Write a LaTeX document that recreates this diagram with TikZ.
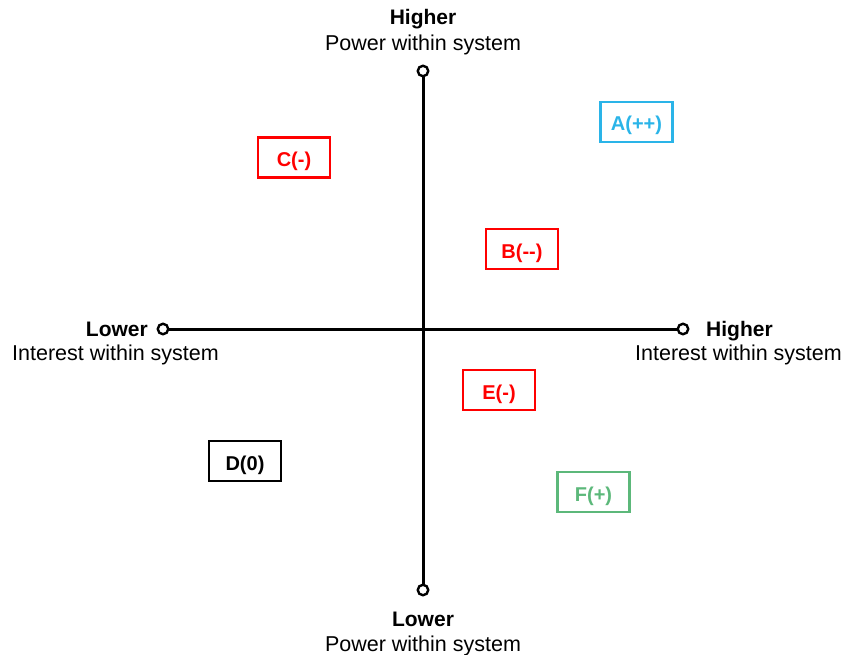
\documentclass[tikz,border=0pt]{standalone}
\usepackage{fontspec}
\setmainfont{Liberation Sans}
\definecolor{negred}{HTML}{FF0000}
\definecolor{poscyan}{HTML}{2AB4E8}
\definecolor{posgreen}{HTML}{5CB87A}
\begin{document}
\begin{tikzpicture}[x=1pt,y=-1pt,
  axis/.style={line width=3pt,black},
  endpt/.style={circle,draw=black,fill=white,line width=2.4pt,minimum size=10.5pt,inner sep=0pt},
  axlabel/.style={font=\fontsize{21.5}{24}\selectfont,inner sep=0pt,anchor=base},
  axtitle/.style={font=\fontsize{21}{24}\selectfont\bfseries,inner sep=0pt,anchor=base},
  party/.style={draw,line width=2.8pt,minimum width=72pt,minimum height=40pt,inner sep=0pt,
    text height=18pt,text depth=0pt,font=\fontsize{20}{24}\selectfont\bfseries}]
\useasboundingbox (0,0) rectangle (859,655);
% axes
\node[endpt] (top) at (423,71) {};
\node[endpt] (bottom) at (423,590) {};
\node[endpt] (left) at (163,329) {};
\node[endpt] (right) at (683,329) {};
\draw[axis] (top) -- (bottom);
\draw[axis] (left) -- (right);
% axis labels
\node[axtitle] (tHigh) at (423,25) {Higher};
\node[axlabel] (tPow) at (423,51) {Power within system};
\node[axtitle] (bLow) at (423,626) {Lower};
\node[axlabel] (bPow) at (423,651) {Power within system};
\node[axtitle,anchor=base east] (lLow) at (148,336) {Lower};
\node[axlabel] (lInt) at (115.5,360.5) {Interest within system};
\node[axtitle,anchor=base west] (rHigh) at (706,336) {Higher};
\node[axlabel] (rInt) at (738.5,360.5) {Interest within system};
% stakeholders
\node[party,draw=poscyan,text=poscyan] (A) at (636.5,122) {A(++)};
\node[party,draw=negred,text=negred] (C) at (294,157.5) {C(-)};
\node[party,draw=negred,text=negred] (B) at (522,249) {B(-{}-)};
\node[party,draw=negred,text=negred] (E) at (499,390) {E(-)};
\node[party,draw=black,text=black] (D) at (245,461) {D(0)};
\node[party,draw=posgreen,text=posgreen] (F) at (593.5,492) {F(+)};
\end{tikzpicture}
\end{document}
